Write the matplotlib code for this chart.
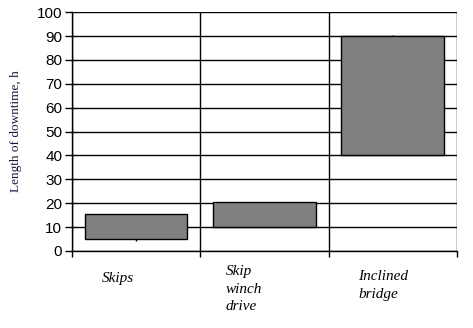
import numpy as np
import matplotlib
matplotlib.use("Agg")
import matplotlib.pyplot as plt

categories = ["Skips", "Skip\nwinch\ndrive", "Inclined\nbridge"]
box_low = [5, 10, 40]
box_high = [15.5, 20.3, 90]
whisker_low = [4.3, 10, 40]
whisker_high = [15.5, 20.3, 90.4]
y_ticks = [0, 10, 20, 30, 40, 50, 60, 70, 80, 90, 100]

fig = plt.figure(figsize=(4.73, 3.28), dpi=100)
ax = fig.add_axes([0.152, 0.235, 0.814, 0.728])

x = np.arange(len(categories))
low = np.array(box_low)
high = np.array(box_high)

ax.vlines(x, whisker_low, whisker_high, color="black", lw=1, zorder=2)
ax.bar(x, high - low, bottom=low, width=0.8, color="#808080",
       edgecolor="black", linewidth=1, zorder=3)

ax.set_xlim(-0.5, 2.5)
ax.set_ylim(0, 100)
ax.set_yticks(y_ticks)
ax.set_yticklabels([str(v) for v in y_ticks], fontsize=11,
                   family="Liberation Sans")
ax.tick_params(axis="y", length=5, width=1, color="black", pad=2)

# category boundaries as minor ticks / vertical grid
ax.set_xticks([])
ax.set_xticks([-0.5, 0.5, 1.5, 2.5], minor=True)
ax.tick_params(axis="x", which="minor", length=4, width=1, color="black")
ax.xaxis.grid(True, which="minor", color="black", lw=1)
ax.yaxis.grid(True, color="black", lw=1)
ax.set_axisbelow(True)

for s in ["top", "right"]:
    ax.spines[s].set_visible(False)
ax.spines["left"].set_linewidth(1)
ax.spines["bottom"].set_linewidth(1)

offsets = [-0.27, -0.30, -0.27]
tops = [-0.09, -0.06, -0.08]
trans = ax.get_xaxis_transform()
for i, lab in enumerate(categories):
    ax.text(i + offsets[i], tops[i], lab, transform=trans, ha="left", va="top",
            fontsize=11, style="italic", family="Liberation Serif",
            linespacing=1.45)

fig.text(0.034, 0.6, "Length of downtime, h", rotation=90, ha="center",
         va="center", fontsize=9.5, family="Liberation Serif", color="#1a1a40")

fig.savefig("out.png", dpi=100)
